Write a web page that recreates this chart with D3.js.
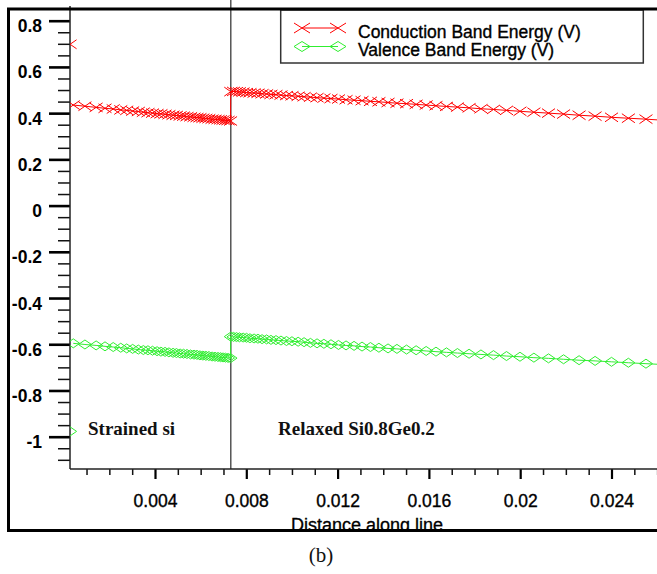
<!DOCTYPE html>
<html>
<head>
<meta charset="utf-8">
<script src="https://cdn.jsdelivr.net/npm/d3@7"></script>
<style>
  html, body { margin: 0; padding: 0; background: #fff; }
  svg { display: block; }
</style>
</head>
<body>
<svg id="chart" width="657" height="574"></svg>
<script>
// ---------------- DATA ----------------
// Strained Si region (distance along line)
const distStrained = [0.00042,0.00093,0.00142,0.00181,0.00217,0.00250,0.00276,0.00302,0.00327,0.00349,
  0.00369,0.00389,0.00409,0.00426,0.00444,0.00461,0.00479,0.00494,0.00510,0.00525,
  0.00540,0.00556,0.00571,0.00584,0.00597,0.00610,0.00623,0.00636,0.00650,0.00663,
  0.00676,0.00687,0.00698,0.00709,0.00720,0.00731];
const condStrained = [0.435,0.430,0.425,0.421,0.418,0.414,0.412,0.409,0.407,0.404,
  0.402,0.400,0.398,0.397,0.395,0.393,0.391,0.390,0.388,0.387,
  0.385,0.384,0.382,0.381,0.380,0.378,0.377,0.376,0.374,0.373,
  0.372,0.371,0.370,0.369,0.368,0.366];
const valStrained = [-0.596,-0.601,-0.605,-0.609,-0.612,-0.615,-0.618,-0.620,-0.623,-0.625,
  -0.626,-0.628,-0.630,-0.632,-0.633,-0.635,-0.637,-0.638,-0.640,-0.641,
  -0.642,-0.644,-0.645,-0.646,-0.648,-0.649,-0.650,-0.651,-0.653,-0.654,
  -0.655,-0.656,-0.657,-0.658,-0.659,-0.660];
// Relaxed Si0.8Ge0.2 region
const distRelaxed = [0.00732,0.00744,0.00757,0.00770,0.00786,0.00801,0.00816,0.00834,0.00851,0.00869,
  0.00889,0.00908,0.00930,0.00952,0.00976,0.01000,0.01027,0.01053,0.01081,0.01110,
  0.01140,0.01171,0.01204,0.01237,0.01272,0.01307,0.01344,0.01381,0.01421,0.01460,
  0.01502,0.01544,0.01588,0.01631,0.01677,0.01725,0.01776,0.01828,0.01883,0.01940,
  0.01999,0.02060,0.02124,0.02190,0.02258,0.02328,0.02400,0.02474,0.02551,0.02630];
const condRelaxed = [0.493,0.494,0.493,0.492,0.491,0.489,0.488,0.487,0.486,0.484,
  0.483,0.481,0.480,0.478,0.476,0.475,0.473,0.471,0.469,0.467,
  0.465,0.463,0.461,0.458,0.456,0.454,0.451,0.449,0.446,0.443,
  0.441,0.438,0.435,0.432,0.429,0.426,0.423,0.419,0.416,0.412,
  0.408,0.404,0.400,0.396,0.391,0.387,0.382,0.378,0.374,0.369];
const valRelaxed = [-0.567,-0.568,-0.569,-0.570,-0.571,-0.572,-0.574,-0.575,-0.576,-0.578,
  -0.579,-0.581,-0.582,-0.584,-0.586,-0.587,-0.589,-0.591,-0.594,-0.596,
  -0.598,-0.600,-0.603,-0.605,-0.607,-0.610,-0.612,-0.615,-0.618,-0.620,
  -0.623,-0.626,-0.629,-0.632,-0.635,-0.638,-0.641,-0.644,-0.647,-0.651,
  -0.654,-0.658,-0.661,-0.665,-0.669,-0.672,-0.676,-0.680,-0.684,-0.688];
// isolated points at the left edge
const condEdge = [{x: 0.00028, y: 0.698}];
const valEdge  = [{x: 0.00028, y: -0.977}];

const interfaceX = 0.00732;

const xMajor = [0.004, 0.008, 0.012, 0.016, 0.02, 0.024];
const xTickLabels = ["0.004", "0.008", "0.012", "0.016", "0.02", "0.024"];
const xMinor = [0.001,0.002,0.003,0.005,0.006,0.007,0.009,0.010,0.011,0.013,0.014,0.015,
  0.017,0.018,0.019,0.021,0.022,0.023,0.025,0.026];
const yMajor = [0.8, 0.6, 0.4, 0.2, 0, -0.2, -0.4, -0.6, -0.8, -1];
const yTickLabels = ["0.8", "0.6", "0.4", "0.2", "0", "-0.2", "-0.4", "-0.6", "-0.8", "-1"];
const yMinor = [0.75,0.7,0.65,0.55,0.5,0.45,0.35,0.3,0.25,0.15,0.1,0.05,-0.05,-0.1,-0.15,
  -0.25,-0.3,-0.35,-0.45,-0.5,-0.55,-0.65,-0.7,-0.75,-0.85,-0.9,-0.95,-1.05,-1.1];

const seriesNames = ["Conduction Band Energy (V)", "Valence Band Energy (V)"];
const regionLabels = ["Strained si", "Relaxed Si0.8Ge0.2"];
const xTitle = "Distance along line";
const caption = "(b)";

// ---------------- LAYOUT ----------------
const RED = "#ff0000", GREEN = "#30ee30";
const SANS = "'Liberation Sans', Arial, sans-serif";
const SERIF = "'Liberation Serif', 'Times New Roman', serif";
const svg = d3.select("#chart");
const plotLeft = 70, plotTop = 10, plotBottom = 469, plotRight = 657;

const x = d3.scaleLinear().domain([0, 0.026]).range([63.7, 657.15]);
const y = d3.scaleLinear().domain([-1, 0.8]).range([436.7, 20.7]);

const defs = svg.append("defs");
defs.append("clipPath").attr("id", "plotclip")
  .append("rect").attr("x", plotLeft).attr("y", plotTop)
  .attr("width", plotRight - plotLeft).attr("height", plotBottom - plotTop);
defs.append("clipPath").attr("id", "frameclip")
  .append("rect").attr("x", 0).attr("y", 0).attr("width", 657).attr("height", 530);

// interface vertical line
svg.append("line")
  .attr("x1", x(interfaceX)).attr("x2", x(interfaceX))
  .attr("y1", 0).attr("y2", plotBottom)
  .attr("stroke", "#555").attr("stroke-width", 1.5);

// ---------------- AXES ----------------
const yAxisMajor = d3.axisLeft(y).tickValues(yMajor).tickSize(21).tickSizeOuter(0)
  .tickFormat((d, i) => yTickLabels[i]);
const gy = svg.append("g").attr("transform", `translate(${plotLeft},0)`).call(yAxisMajor);
gy.select(".domain").remove();
gy.selectAll(".tick line").attr("stroke", "#000").attr("stroke-width", 2.6);
gy.selectAll(".tick text")
  .attr("x", -28).attr("dy", 11)
  .attr("font-family", SANS)
  .attr("font-size", "17.5px").attr("font-weight", "bold").attr("fill", "#000");

const yAxisMinor = d3.axisLeft(y).tickValues(yMinor).tickSize(12).tickSizeOuter(0).tickFormat("");
const gym = svg.append("g").attr("transform", `translate(${plotLeft},0)`).call(yAxisMinor);
gym.select(".domain").remove();
gym.selectAll(".tick line").attr("stroke", "#111").attr("stroke-width", 1.5);

const xAxisMajor = d3.axisBottom(x).tickValues(xMajor).tickSize(10).tickSizeOuter(0)
  .tickFormat((d, i) => xTickLabels[i]);
const gx = svg.append("g").attr("transform", `translate(0,${plotBottom})`).call(xAxisMajor);
gx.select(".domain").remove();
gx.selectAll(".tick line").attr("stroke", "#000").attr("stroke-width", 2.2);
gx.selectAll(".tick text")
  .attr("y", 38).attr("dy", 0)
  .attr("font-family", SANS)
  .attr("font-size", "17.5px").attr("fill", "#000")
  .attr("stroke", "#000").attr("stroke-width", 0.35);

const xAxisMinor = d3.axisBottom(x).tickValues(xMinor).tickSize(6).tickSizeOuter(0).tickFormat("");
const gxm = svg.append("g").attr("transform", `translate(0,${plotBottom})`).call(xAxisMinor);
gxm.select(".domain").remove();
gxm.selectAll(".tick line").attr("stroke", "#111").attr("stroke-width", 1.5);

// axis lines
svg.append("line").attr("x1", plotLeft).attr("x2", plotLeft).attr("y1", 6).attr("y2", plotBottom)
  .attr("stroke", "#222").attr("stroke-width", 1.5);
svg.append("line").attr("x1", plotLeft).attr("x2", 660).attr("y1", plotBottom).attr("y2", plotBottom)
  .attr("stroke", "#222").attr("stroke-width", 1.5);

// ---------------- SERIES ----------------
const condPts = distStrained.map((d, i) => ({x: d, y: condStrained[i]}))
  .concat(distRelaxed.map((d, i) => ({x: d, y: condRelaxed[i]})));
const valPts = distStrained.map((d, i) => ({x: d, y: valStrained[i]}))
  .concat(distRelaxed.map((d, i) => ({x: d, y: valRelaxed[i]})));

const line = d3.line().x(d => x(d.x)).y(d => y(d.y));
const plot = svg.append("g").attr("clip-path", "url(#plotclip)");

function xMarker(g, cx, cy, hw, hh, color) {
  g.append("path")
    .attr("d", `M${cx - hw},${cy - hh}L${cx + hw},${cy + hh}M${cx - hw},${cy + hh}L${cx + hw},${cy - hh}`)
    .attr("stroke", color).attr("stroke-width", 1).attr("fill", "none");
}
function diamond(g, cx, cy, hw, hh, color) {
  g.append("path")
    .attr("d", `M${cx - hw},${cy}L${cx},${cy - hh}L${cx + hw},${cy}L${cx},${cy + hh}Z`)
    .attr("stroke", color).attr("stroke-width", 1).attr("fill", "none");
}

plot.append("path").datum(condPts).attr("d", line)
  .attr("fill", "none").attr("stroke", RED).attr("stroke-width", 1);
plot.append("path").datum(valPts).attr("d", line)
  .attr("fill", "none").attr("stroke", GREEN).attr("stroke-width", 1);

const gc = plot.append("g");
condPts.concat(condEdge).forEach(p => xMarker(gc, x(p.x), y(p.y), 6.5, 4.5, RED));
const gv = plot.append("g");
valPts.concat(valEdge).forEach(p => diamond(gv, x(p.x), y(p.y), 6.5, 4.5, GREEN));

// ---------------- LABELS ----------------
svg.append("text").attr("x", 88).attr("y", 435)
  .attr("font-family", SERIF)
  .attr("font-size", "19px").attr("font-weight", "bold").attr("fill", "#111")
  .text(regionLabels[0]);
svg.append("text").attr("x", 278).attr("y", 435)
  .attr("font-family", SERIF)
  .attr("font-size", "19px").attr("font-weight", "bold").attr("fill", "#111")
  .text(regionLabels[1]);

svg.append("g").attr("clip-path", "url(#frameclip)")
  .append("text").attr("x", 367).attr("y", 530.5).attr("text-anchor", "middle")
  .attr("font-family", SANS)
  .attr("font-size", "18px").attr("fill", "#000")
  .attr("stroke", "#000").attr("stroke-width", 0.3)
  .text(xTitle);

// ---------------- LEGEND ----------------
const lg = svg.append("g");
lg.append("rect").attr("x", 280.7).attr("y", 10).attr("width", 362.6).attr("height", 53)
  .attr("fill", "#fff").attr("stroke", "#333").attr("stroke-width", 1.5);
const legendRows = [
  {name: seriesNames[0], color: RED, y: 28, mk: xMarker},
  {name: seriesNames[1], color: GREEN, y: 46.5, mk: diamond}
];
legendRows.forEach(r => {
  lg.append("line").attr("x1", 302).attr("x2", 338).attr("y1", r.y).attr("y2", r.y)
    .attr("stroke", r.color).attr("stroke-width", 1);
  r.mk(lg, 302, r.y, 8, 5, r.color);
  r.mk(lg, 338, r.y, 8, 5, r.color);
  lg.append("text").attr("x", 358).attr("y", r.y + 9.5)
    .attr("font-family", SANS)
    .attr("font-size", "17.5px").attr("fill", "#000")
    .attr("stroke", "#000").attr("stroke-width", 0.35)
    .text(r.name);
});

// ---------------- FRAME ----------------
svg.append("path")
  .attr("d", "M680,9L8.5,9L8.5,530.5L680,530.5")
  .attr("fill", "none").attr("stroke", "#000").attr("stroke-width", 3);

svg.append("text").attr("x", 321).attr("y", 562).attr("text-anchor", "middle")
  .attr("font-family", SERIF)
  .attr("font-size", "21px").attr("fill", "#111")
  .text(caption);
</script>
</body>
</html>
